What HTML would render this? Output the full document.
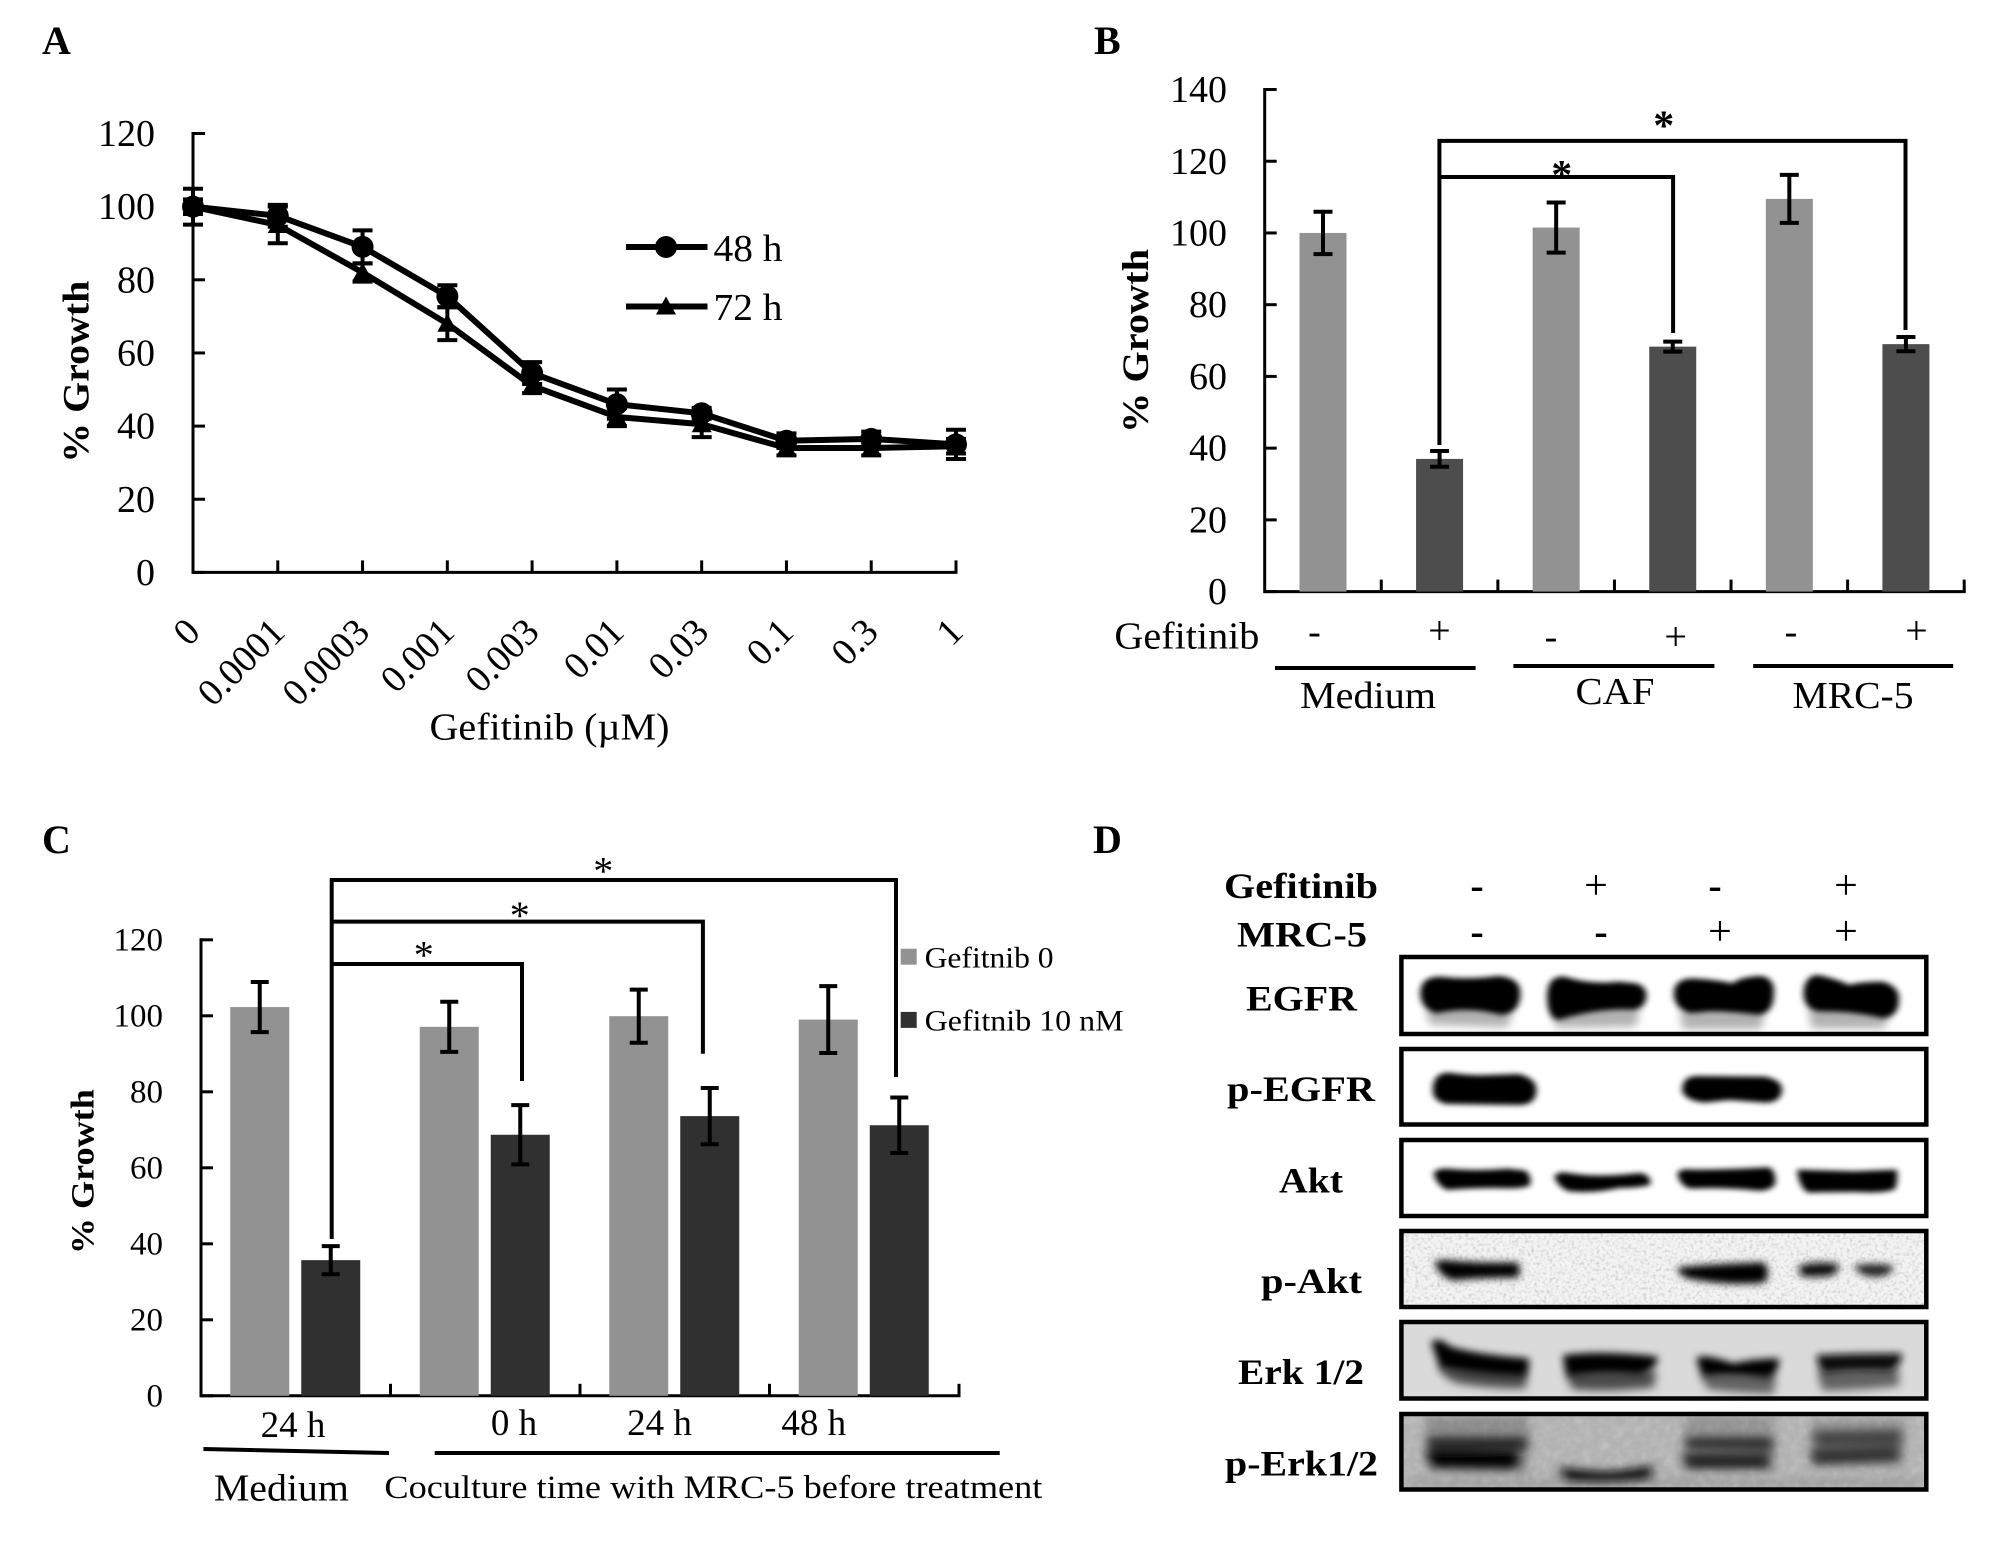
<!DOCTYPE html>
<html lang="en">
<head>
<meta charset="utf-8">
<title>Gefitinib growth figure</title>
<style>
html,body{margin:0;padding:0;background:#fff;}
svg{display:block;}
text{font-family:"Liberation Serif","Times New Roman",serif;fill:#000;}
.b{font-weight:bold;}
</style>
</head>
<body>
<svg id="figure" xmlns="http://www.w3.org/2000/svg" width="2008" height="1549" viewBox="0 0 2008 1549">
<defs>
<filter id="blur-a" x="-10%" y="-30%" width="120%" height="160%"><feGaussianBlur stdDeviation="9 8"/></filter>
<filter id="blur-b" x="-10%" y="-30%" width="120%" height="160%"><feGaussianBlur stdDeviation="13 13"/></filter>
<filter id="blur-c" x="-10%" y="-30%" width="120%" height="160%"><feGaussianBlur stdDeviation="11 11"/></filter>
<filter id="blur-d" x="-10%" y="-30%" width="120%" height="160%"><feGaussianBlur stdDeviation="15 13"/></filter>
<filter id="speckle" x="0" y="0" width="100%" height="100%"><feTurbulence type="fractalNoise" baseFrequency="0.32" numOctaves="2" seed="4"/><feColorMatrix type="matrix" values="0 0 0 0 0.6 0 0 0 0 0.6 0 0 0 0 0.6 1.6 1.6 0 0 -1.5"/></filter>
<filter id="speckle-soft" x="0" y="0" width="100%" height="100%"><feTurbulence type="fractalNoise" baseFrequency="0.12" numOctaves="2" seed="9"/><feColorMatrix type="matrix" values="0 0 0 0 0.9 0 0 0 0 0.9 0 0 0 0 0.9 0.8 0.8 0 0 -0.65"/></filter>
</defs>

<!-- PANEL A -->
<g id="panel-a">
<text class="b" x="42" y="54" font-size="40">A</text>
<g id="a-axes"></g>
<g id="a-marks"></g>
<text class="b" transform="translate(88.5 371.7) rotate(-90)" text-anchor="middle" font-size="37" textLength="182" lengthAdjust="spacingAndGlyphs">% Growth</text>
<text x="549.5" y="739.4" text-anchor="middle" font-size="38" textLength="240" lengthAdjust="spacingAndGlyphs">Gefitinib (µM)</text>
<g>
<line x1="626" y1="247" x2="707.5" y2="247" stroke="#000" stroke-width="6"/>
<circle cx="666" cy="247" r="11" fill="#000"/>
<text x="713.5" y="261" font-size="38" textLength="69" lengthAdjust="spacingAndGlyphs">48 h</text>
</g>
<g>
<line x1="626" y1="306.5" x2="707.5" y2="306.5" stroke="#000" stroke-width="6"/>
<path d="M666 296.5 L676 314.5 L656 314.5 Z" fill="#000"/>
<text x="713.5" y="320" font-size="38" textLength="69" lengthAdjust="spacingAndGlyphs">72 h</text>
</g>
</g>

<!-- PANEL B -->
<g id="panel-b">
<text class="b" x="1094" y="54" font-size="40">B</text>
<g id="b-axes"></g>
<g id="b-marks"></g>
<text class="b" transform="translate(1148 341) rotate(-90)" text-anchor="middle" font-size="37" textLength="184" lengthAdjust="spacingAndGlyphs">% Growth</text>
<path d="M1439.4 445 V140.9 H1905.5 V330" fill="none" stroke="#000" stroke-width="4"/>
<path d="M1439.4 177 H1673.1 V333" fill="none" stroke="#000" stroke-width="4"/>
<text x="1663.7" y="139.4" text-anchor="middle" font-size="42" class="b">*</text>
<text x="1561.7" y="188.8" text-anchor="middle" font-size="42" class="b">*</text>
<text x="1114.4" y="648.5" font-size="38" textLength="145" lengthAdjust="spacingAndGlyphs">Gefitinib</text>
<text x="1314.4" y="644" text-anchor="middle" font-size="38">-</text>
<text x="1439.4" y="644" text-anchor="middle" font-size="40">+</text>
<text x="1551" y="649" text-anchor="middle" font-size="38">-</text>
<text x="1675.6" y="650" text-anchor="middle" font-size="40">+</text>
<text x="1791" y="644" text-anchor="middle" font-size="38">-</text>
<text x="1916.4" y="644" text-anchor="middle" font-size="40">+</text>
<line x1="1275" y1="668" x2="1475.6" y2="668" stroke="#000" stroke-width="4"/>
<line x1="1513.4" y1="666" x2="1714.4" y2="666" stroke="#000" stroke-width="4"/>
<line x1="1753.2" y1="666" x2="1953.2" y2="666" stroke="#000" stroke-width="4"/>
<text x="1368" y="708" text-anchor="middle" font-size="38" textLength="136" lengthAdjust="spacingAndGlyphs">Medium</text>
<text x="1615" y="704" text-anchor="middle" font-size="38" textLength="79" lengthAdjust="spacingAndGlyphs">CAF</text>
<text x="1853" y="708" text-anchor="middle" font-size="38" textLength="121" lengthAdjust="spacingAndGlyphs">MRC-5</text>
</g>

<!-- PANEL C -->
<g id="panel-c">
<text class="b" x="42" y="853" font-size="40">C</text>
<g id="c-axes"></g>
<g id="c-marks"></g>
<text class="b" transform="translate(93.7 1171.7) rotate(-90)" text-anchor="middle" font-size="33" textLength="165" lengthAdjust="spacingAndGlyphs">% Growth</text>
<path d="M331.7 1239 V880 H896 V1077" fill="none" stroke="#000" stroke-width="4"/>
<path d="M331.7 921.6 H702.9 V1053.8" fill="none" stroke="#000" stroke-width="4"/>
<path d="M331.7 964 H522 V1081" fill="none" stroke="#000" stroke-width="4"/>
<text x="603.3" y="884.6" text-anchor="middle" font-size="40">*</text>
<text x="519.7" y="929" text-anchor="middle" font-size="40">*</text>
<text x="423.7" y="968.4" text-anchor="middle" font-size="40">*</text>
<rect x="900.7" y="948.7" width="16" height="16" fill="#929292"/>
<text x="924.6" y="967.4" font-size="30" textLength="129" lengthAdjust="spacingAndGlyphs">Gefitnib 0</text>
<rect x="900.7" y="1011.9" width="16" height="16" fill="#303030"/>
<text x="924.6" y="1030.6" font-size="30" textLength="199" lengthAdjust="spacingAndGlyphs">Gefitnib 10 nM</text>
<line x1="203.4" y1="1449" x2="389" y2="1453" stroke="#000" stroke-width="4"/>
<line x1="434.7" y1="1453" x2="999.7" y2="1453" stroke="#000" stroke-width="4"/>
<text x="213.9" y="1500.4" font-size="38" textLength="135" lengthAdjust="spacingAndGlyphs">Medium</text>
<text x="384.4" y="1498" font-size="33" textLength="658" lengthAdjust="spacingAndGlyphs">Coculture time with MRC-5 before treatment</text>
</g>

<!-- PANEL D -->
<g id="panel-d">
<text class="b" x="1093" y="853" font-size="40">D</text>
<text class="b" x="1224" y="898" font-size="36" textLength="154" lengthAdjust="spacingAndGlyphs">Gefitinib</text>
<text class="b" x="1237" y="946.5" font-size="36" textLength="130" lengthAdjust="spacingAndGlyphs">MRC-5</text>
<text class="b" x="1477" y="899" text-anchor="middle" font-size="40">-</text>
<text x="1596" y="899" text-anchor="middle" font-size="42">+</text>
<text class="b" x="1715" y="899" text-anchor="middle" font-size="40">-</text>
<text x="1846" y="899" text-anchor="middle" font-size="42">+</text>
<text class="b" x="1477" y="945" text-anchor="middle" font-size="40">-</text>
<text class="b" x="1601" y="945" text-anchor="middle" font-size="40">-</text>
<text x="1720" y="945" text-anchor="middle" font-size="42">+</text>
<text x="1846" y="945" text-anchor="middle" font-size="42">+</text>

<text class="b" x="1246" y="1010.5" font-size="36" textLength="111" lengthAdjust="spacingAndGlyphs">EGFR</text>
<text class="b" x="1227" y="1101" font-size="36" textLength="148" lengthAdjust="spacingAndGlyphs">p-EGFR</text>
<text class="b" x="1279" y="1192.5" font-size="36" textLength="64" lengthAdjust="spacingAndGlyphs">Akt</text>
<text class="b" x="1261" y="1293" font-size="36" textLength="101" lengthAdjust="spacingAndGlyphs">p-Akt</text>
<text class="b" x="1238" y="1384" font-size="36" textLength="126" lengthAdjust="spacingAndGlyphs">Erk 1/2</text>
<text class="b" x="1225" y="1475.5" font-size="36" textLength="153" lengthAdjust="spacingAndGlyphs">p-Erk1/2</text>

<!-- blot backgrounds -->
<rect x="1401" y="1231" width="525" height="76" fill="#f3f3f3"/>
<rect x="1401" y="1231" width="525" height="76" filter="url(#speckle)"/>
<rect x="1401" y="1322" width="525" height="77" fill="#dadada"/>
<rect x="1401" y="1414" width="525" height="76" fill="#b2b2b2"/>
<rect x="1401" y="1414" width="525" height="76" filter="url(#speckle-soft)" opacity="0.35"/>

<!-- EGFR / p-EGFR / Akt bands -->
<g transform="translate(1390 950) scale(0.3571 0.3333)">
<g filter="url(#blur-b)" fill="#000" opacity="0.3">
<path d="M100 170 L345 180 L330 232 L110 224Z"/>
<path d="M450 180 L700 170 L690 230 L465 234Z"/>
<path d="M810 180 L1050 180 L1040 238 L820 238Z"/>
<path d="M1170 170 L1400 190 L1385 236 L1180 236Z"/>
</g>
<g filter="url(#blur-a)" fill="#000">
<path d="M85 130 Q85 80 140 80 Q220 90 300 78 Q365 80 365 130 Q365 190 310 195 Q220 170 130 190 Q85 175 85 130Z"/>
<path d="M440 140 Q440 75 490 80 Q560 105 640 95 L690 100 Q720 110 718 140 Q715 175 680 180 Q580 175 470 210 Q440 200 440 140Z"/>
<path d="M795 130 Q795 85 850 85 Q920 90 960 100 Q980 80 1040 78 Q1078 85 1075 130 Q1075 190 1030 195 Q950 185 900 185 L840 190 Q795 175 795 130Z"/>
<path d="M1158 130 Q1160 75 1200 75 Q1260 90 1285 105 Q1320 95 1380 95 Q1428 110 1425 150 Q1425 200 1380 205 Q1300 185 1200 185 Q1158 175 1158 130Z"/>
<path d="M120 420 Q120 368 165 368 Q220 378 280 375 L360 372 Q410 385 410 420 Q410 465 360 465 L160 462 Q120 455 120 420Z"/>
<path d="M818 418 Q820 378 860 378 L1050 380 Q1098 390 1098 420 Q1095 458 1050 458 L950 450 L880 458 Q820 450 818 418Z"/>
<path d="M122 670 Q130 654 160 656 Q240 664 330 656 L380 662 Q398 680 392 706 Q370 718 300 714 Q220 714 160 720 Q130 706 122 670Z"/>
<path d="M460 680 Q470 662 500 669 Q580 684 700 669 Q732 674 729 704 Q700 714 640 714 Q570 731 500 724 Q470 711 460 680Z"/>
<path d="M805 670 Q810 654 850 659 Q950 659 1060 652 Q1080 659 1079 701 Q1065 724 1030 722 Q930 711 840 716 Q810 706 805 670Z"/>
<path d="M1140 659 L1300 664 L1419 659 Q1424 690 1414 718 Q1380 731 1310 726 Q1220 726 1170 728 Q1145 711 1140 659Z"/>
</g>
</g>

<!-- p-Akt / Erk / p-Erk bands -->
<g transform="translate(1390 1225) scale(0.3571 0.3333)">
<g filter="url(#blur-b)" fill="#000">
<path opacity="0.22" d="M100 575 L390 575 L385 745 L105 740Z"/>
<path opacity="0.18" d="M825 575 L1075 575 L1075 735 L825 735Z"/>
<path opacity="0.18" d="M1180 585 L1440 585 L1435 725 L1185 725Z"/>
<path opacity="0.12" d="M50 760 L1480 760 L1480 785 L50 785Z"/>
</g>
<g filter="url(#blur-b)" fill="#000">
<path opacity="0.65" d="M135 425 L385 440 L380 490 Q300 493 200 477 Q150 467 135 425Z"/>
<path opacity="0.65" d="M490 440 L745 435 L740 487 Q600 503 510 493Z"/>
<path opacity="0.55" d="M865 445 L1080 445 L1075 507 Q960 503 890 493Z"/>
<path opacity="0.55" d="M1195 435 L1425 430 L1425 483 Q1300 497 1210 497Z"/>
</g>
<g filter="url(#blur-c)">
<path fill="#000" d="M125 112 Q140 102 170 107 Q250 115 358 112 Q368 135 358 158 Q250 158 180 166 Q140 158 125 112Z"/>
<path fill="#000" d="M805 127 Q900 117 1048 112 Q1068 145 1048 173 Q950 183 850 163 Q810 158 805 127Z"/>
<path fill="#111" d="M1145 122 Q1200 107 1253 117 Q1265 140 1230 153 Q1180 158 1150 153Z"/>
<path fill="#222" d="M1300 122 Q1350 112 1408 122 Q1411 151 1360 156 Q1310 153 1300 122Z"/>
<path fill="#000" d="M115 350 Q140 335 170 365 Q250 390 388 400 Q393 430 378 455 Q250 450 140 430Z"/>
<path fill="#000" d="M485 390 Q600 375 750 395 Q750 430 700 450 Q600 440 500 455 Q485 430 485 390Z"/>
<path fill="#000" d="M860 395 Q900 390 960 415 Q1020 400 1090 400 Q1090 440 1060 460 Q960 445 880 455 Q860 430 860 395Z"/>
<path fill="#111" d="M1195 390 Q1300 385 1434 385 Q1434 420 1400 440 Q1300 435 1215 445 Q1195 420 1195 390Z"/>
</g>
<g filter="url(#blur-d)">
<path fill="#2a2a2a" d="M105 636 L380 636 L385 676 L110 682Z"/>
<path fill="#000" d="M100 680 L355 680 Q370 700 350 730 L120 726Z"/>
<path fill="#111" d="M475 725 Q520 735 600 740 Q680 735 735 720 L730 761 Q600 776 490 766Z"/>
<path fill="#333" d="M830 636 L1070 636 L1070 678 L830 672Z"/>
<path fill="#222" d="M820 686 L1062 686 L1062 730 L830 730Z"/>
<path fill="#444" d="M1185 619 L1430 614 L1430 664 L1190 664Z"/>
<path fill="#333" d="M1180 672 L1425 667 L1425 708 L1185 718Z"/>
</g>
</g>

<!-- blot frames -->
<rect x="1401.4" y="957" width="524.9" height="77" fill="none" stroke="#000" stroke-width="4.5"/>
<rect x="1401.4" y="1049" width="524.9" height="75.5" fill="none" stroke="#000" stroke-width="4.5"/>
<rect x="1401.4" y="1140" width="524.9" height="76" fill="none" stroke="#000" stroke-width="4.5"/>
<rect x="1401.4" y="1231" width="524.9" height="76" fill="none" stroke="#000" stroke-width="4.5"/>
<rect x="1401.4" y="1322" width="524.9" height="76.5" fill="none" stroke="#000" stroke-width="4.5"/>
<rect x="1401.4" y="1414" width="524.9" height="75.5" fill="none" stroke="#000" stroke-width="4.5"/>
</g>
</svg>

<script>
// Panel A data
const doseLabels = ['0','0.0001','0.0003','0.001','0.003','0.01','0.03','0.1','0.3','1'];
const growth48h = [100,97.5,89,75.5,54.5,46,43.5,36,36.5,35];
const error48h = [4.9,3,4.5,3,3,4,1.5,2,2,4];
const growth72h = [100,95,82,68,51,42.5,40.5,34,34,34.5];
const error72h = [2,5,2.5,4.5,2,2.5,3.5,2,2,2];
const yTicksA = [0,20,40,60,80,100,120];

// Panel B data
const barsBValues = [100,37,101.5,68.3,109.5,69];
const barsBErrors = [5.9,2.2,7,1.4,6.7,2];
const yTicksB = [0,20,40,60,80,100,120,140];

// Panel C data
const groupsC = ['medium-24h','coculture-0h','coculture-24h','coculture-48h'];
const barsCControl = [102.3,97.1,99.9,99];
const barsCControlErrors = [6.6,6.6,7,8.8];
const barsCTreated = [35.7,68.7,73.6,71.2];
const barsCTreatedErrors = [3.7,7.8,7.4,7.3];
const yTicksC = [0,20,40,60,80,100,120];
const timeLabelsC = ['24 h','0 h','24 h','48 h'];

const NS = 'http://www.w3.org/2000/svg';
function make(tag, attrs, parent) {
  const el = document.createElementNS(NS, tag);
  for (const k in attrs) el.setAttribute(k, attrs[k]);
  parent.appendChild(el);
  return el;
}

// Axis functions
const xA = i => 193 + i * 763 / (doseLabels.length - 1);
const yA = v => 572.4 - v * 438.9 / 120;
const xB = i => 1264.7 + (i + 0.5) * 699.5 / barsBValues.length;
const yB = v => 591.6 - v * 502.1 / 140;
const xCGroup = i => 201 + i * 758 / groupsC.length;
const yC = v => 1395.8 - v * 456 / 120;

function drawYAxis(parent, ticks, scale, axisX, labelX, size, prefix) {
  ticks.forEach(function (t) {
    const tick = make('line', {x1: axisX, x2: axisX + 12, y1: scale(t), y2: scale(t), stroke: '#000', 'stroke-width': 3}, parent);
    
    
    const lab = make('text', {x: labelX, y: scale(t) + size * 0.33, 'text-anchor': 'end', 'font-size': size}, parent);
    lab.textContent = String(t);
    
    
  });
}
function drawAxisLines(parent, x0, y0, x1, yTop, prefix) {
  const yAxis = make('line', {x1: x0, x2: x0, y1: yTop - 1.5, y2: y0 + 1.5, stroke: '#000', 'stroke-width': 3}, parent);
  
  
  const xAxis = make('line', {x1: x0, x2: x1 + 1.5, y1: y0, y2: y0, stroke: '#000', 'stroke-width': 3}, parent);
  
  
}
function drawXTick(parent, x, y0, name) {
  const t = make('line', {x1: x, x2: x, y1: y0 - 12, y2: y0, stroke: '#000', 'stroke-width': 3}, parent);
  
  
}
function drawError(parent, x, yScale, v, e, capW, sw, name) {
  const hi = yScale(v + e), lo = yScale(v - e);
  const d = 'M' + (x - capW / 2) + ' ' + hi + ' H' + (x + capW / 2) + ' M' + x + ' ' + hi + ' V' + lo + ' M' + (x - capW / 2) + ' ' + lo + ' H' + (x + capW / 2);
  const p = make('path', {d: d, fill: 'none', stroke: '#000', 'stroke-width': sw}, parent);
  
  
}

// ---- Panel A ----
const aAxes = document.getElementById('a-axes');
const aMarks = document.getElementById('a-marks');
drawAxisLines(aAxes, 193, yA(0), xA(doseLabels.length - 1), yA(120), 'panel-a');
drawYAxis(aAxes, yTicksA, yA, 193, 155, 38, 'panel-a');
doseLabels.forEach(function (label, i) {
  if (i > 0) drawXTick(aAxes, xA(i), yA(0), 'panel-a-x-tick-' + i);
  const lab = make('text', {x: xA(i) + 9, y: 634, 'text-anchor': 'end', 'font-size': 38, transform: 'rotate(-45 ' + (xA(i) + 9) + ' 634)'}, aAxes);
  lab.textContent = label;
  
  
});
function linePoints(values) {
  return values.map(function (v, i) { return xA(i) + ',' + yA(v); }).join(' ');
}
growth72h.forEach(function (v, i) {
  drawError(aMarks, xA(i), yA, v, error72h[i], 20, 4, 'error-bar-72h-' + i);
});
growth48h.forEach(function (v, i) {
  drawError(aMarks, xA(i), yA, v, error48h[i], 20, 4, 'error-bar-48h-' + i);
});
const line72 = make('polyline', {points: linePoints(growth72h), fill: 'none', stroke: '#000', 'stroke-width': 6}, aMarks);


const line48 = make('polyline', {points: linePoints(growth48h), fill: 'none', stroke: '#000', 'stroke-width': 6}, aMarks);


growth72h.forEach(function (v, i) {
  const x = xA(i), y = yA(v);
  const tri = make('path', {d: 'M' + x + ' ' + (y - 10) + ' L' + (x + 10) + ' ' + (y + 8) + ' L' + (x - 10) + ' ' + (y + 8) + ' Z', fill: '#000'}, aMarks);
  
  
});
growth48h.forEach(function (v, i) {
  const c = make('circle', {cx: xA(i), cy: yA(v), r: 11, fill: '#000'}, aMarks);
  
  
});

// ---- Panel B ----
const bAxes = document.getElementById('b-axes');
const bMarks = document.getElementById('b-marks');
barsBValues.forEach(function (v, i) {
  const w = 47;
  const r = make('rect', {x: xB(i) - w / 2, y: yB(v), width: w, height: yB(0) - yB(v), fill: i % 2 ? '#4d4d4d' : '#929292'}, bMarks);
  
  
  drawError(bMarks, xB(i), yB, v, barsBErrors[i], 19, 4, 'error-bar-b-' + i);
});
drawAxisLines(bAxes, 1264.7, yB(0), 1964.2, yB(140), 'panel-b');
drawYAxis(bAxes, yTicksB, yB, 1264.7, 1227, 38, 'panel-b');
barsBValues.forEach(function (v, i) {
  drawXTick(bAxes, 1264.7 + (i + 1) * 699.5 / barsBValues.length, yB(0), 'panel-b-x-tick-' + i);
});

// ---- Panel C ----
const cAxes = document.getElementById('c-axes');
const cMarks = document.getElementById('c-marks');
groupsC.forEach(function (g, i) {
  const center = xCGroup(i + 0.5), w = 59;
  const lightX = center - 36, darkX = center + 35;
  const light = make('rect', {x: lightX - w / 2, y: yC(barsCControl[i]), width: w, height: yC(0) - yC(barsCControl[i]), fill: '#929292'}, cMarks);
  
  
  const dark = make('rect', {x: darkX - w / 2, y: yC(barsCTreated[i]), width: w, height: yC(0) - yC(barsCTreated[i]), fill: '#303030'}, cMarks);
  
  
  drawError(cMarks, lightX, yC, barsCControl[i], barsCControlErrors[i], 18, 4, 'error-control-' + g);
  drawError(cMarks, darkX, yC, barsCTreated[i], barsCTreatedErrors[i], 18, 4, 'error-treated-' + g);
  drawXTick(cAxes, xCGroup(i + 1), yC(0), 'panel-c-x-tick-' + i);
});
drawAxisLines(cAxes, 201, yC(0), xCGroup(groupsC.length), yC(120), 'panel-c');
drawYAxis(cAxes, yTicksC, yC, 201, 163, 33, 'panel-c');
const timeLabelAnchors = [293, 514, 659.5, 813.7];
timeLabelsC.forEach(function (t, i) {
  const lab = make('text', {x: timeLabelAnchors[i], y: i === 0 ? 1437 : 1435, 'text-anchor': 'middle', 'font-size': 37}, cAxes);
  lab.textContent = t;
  
  
});
</script>
</body>
</html>
